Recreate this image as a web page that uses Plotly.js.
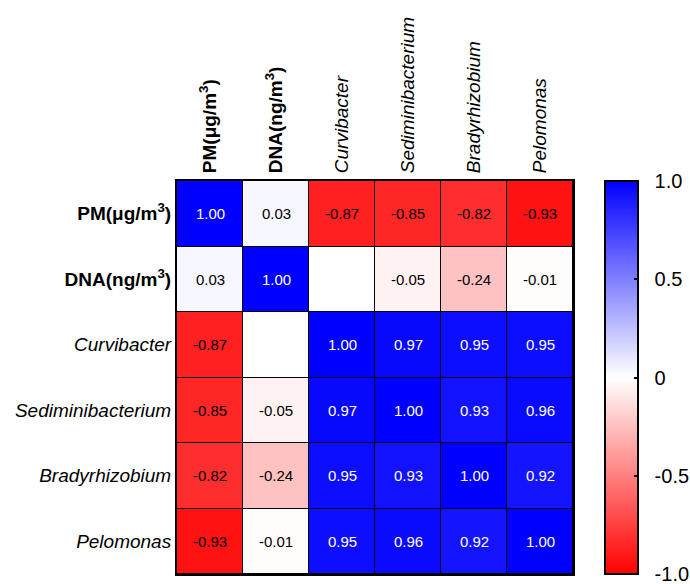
<!DOCTYPE html>
<html>
<head>
<meta charset="utf-8">
<script src="https://cdn.plot.ly/plotly-3.0.1.min.js"></script>
<style>html,body{margin:0;padding:0;background:#fff;}#chart{width:690px;height:584px;}</style>
</head>
<body>
<div id="chart"></div>
<script>
// Variables (order as drawn, top to bottom / left to right)
const categories = ["PM", "DNA", "Curvibacter", "Sediminibacterium", "Bradyrhizobium", "Pelomonas"];
const tickLabels = [
  "<b>PM(μg/m<sup>3</sup>)</b>",
  "<b>DNA(ng/m<sup>3</sup>)</b>",
  "<i>Curvibacter</i>",
  "<i>Sediminibacterium</i>",
  "<i>Bradyrhizobium</i>",
  "<i>Pelomonas</i>"
];
// Correlation rows
const rowPM                = [ 1.00,  0.03, -0.87, -0.85, -0.82, -0.93];
const rowDNA               = [ 0.03,  1.00,  0.00, -0.05, -0.24, -0.01];
const rowCurvibacter       = [-0.87,  0.00,  1.00,  0.97,  0.95,  0.95];
const rowSediminibacterium = [-0.85, -0.05,  0.97,  1.00,  0.93,  0.96];
const rowBradyrhizobium    = [-0.82, -0.24,  0.95,  0.93,  1.00,  0.92];
const rowPelomonas         = [-0.93, -0.01,  0.95,  0.96,  0.92,  1.00];
// Cell labels (the DNA–Curvibacter pair is shown blank in the original)
const labelsPM                = ["1.00", "0.03", "-0.87", "-0.85", "-0.82", "-0.93"];
const labelsDNA               = ["0.03", "1.00", "", "-0.05", "-0.24", "-0.01"];
const labelsCurvibacter       = ["-0.87", "", "1.00", "0.97", "0.95", "0.95"];
const labelsSediminibacterium = ["-0.85", "-0.05", "0.97", "1.00", "0.93", "0.96"];
const labelsBradyrhizobium    = ["-0.82", "-0.24", "0.95", "0.93", "1.00", "0.92"];
const labelsPelomonas         = ["-0.93", "-0.01", "0.95", "0.96", "0.92", "1.00"];
// Colorbar ticks
const cbTickVals = [1, 0.5, 0, -0.5, -1];
const cbTickText = ["1.0", "0.5", "0", "-0.5", "-1.0"];
const cbInnerTicks = [0.5, 0, -0.5];

const z = [rowPM, rowDNA, rowCurvibacter, rowSediminibacterium, rowBradyrhizobium, rowPelomonas];
const labels = [labelsPM, labelsDNA, labelsCurvibacter, labelsSediminibacterium, labelsBradyrhizobium, labelsPelomonas];

const FONT = "Arial, 'Liberation Sans', sans-serif";
const CB_X = 1.081;
const PLOT_W = 690 - 177 - 117;

const trace = {
  type: "heatmap",
  x: categories,
  y: categories,
  z: z,
  zmin: -1,
  zmax: 1,
  xgap: 1,
  ygap: 1,
  colorscale: [[0, "#ff0000"], [0.5, "#ffffff"], [1, "#0000ff"]],
  hoverinfo: "skip",
  colorbar: {
    x: CB_X,
    xanchor: "left",
    xpad: 0,
    ypad: 0,
    y: 0.5,
    yanchor: "middle",
    len: 1.0,
    lenmode: "fraction",
    thickness: 33,
    outlinewidth: 2,
    outlinecolor: "#000",
    tickmode: "array",
    tickvals: cbTickVals,
    ticktext: cbTickText.map(t => "\u00a0\u00a0" + t),
    ticks: "inside",
    ticklen: 5,
    tickwidth: 2,
    tickcolor: "#000",
    ticklabeloverflow: "allow",
    tickfont: {family: FONT, size: 20, color: "#000"}
  }
};

const annotations = [];
for (let i = 0; i < categories.length; i++) {
  for (let j = 0; j < categories.length; j++) {
    const v = z[i][j];
    if (labels[i][j] === "") continue;
    annotations.push({
      x: categories[j],
      y: categories[i],
      xref: "x",
      yref: "y",
      text: labels[i][j],
      showarrow: false,
      font: {family: FONT, size: 15, color: v > 0.5 ? "#ffffff" : "#000000"}
    });
  }
}

// left-edge tick marks on the colour bar (the right-edge ones come from the colorbar itself)
const shapes = cbInnerTicks.map(v => ({
  type: "line",
  xref: "paper",
  yref: "paper",
  x0: CB_X + 1 / PLOT_W,
  x1: CB_X + 6 / PLOT_W,
  y0: (v + 1) / 2,
  y1: (v + 1) / 2,
  line: {color: "#000", width: 2}
}));

const layout = {
  width: 690,
  height: 584,
  margin: {l: 177, r: 117, t: 181, b: 10, pad: 0, autoexpand: false},
  paper_bgcolor: "#ffffff",
  plot_bgcolor: "#000000",
  font: {family: FONT, color: "#000"},
  showlegend: false,
  annotations: annotations,
  shapes: shapes,
  xaxis: {
    side: "top",
    tickmode: "array",
    tickvals: categories,
    ticktext: tickLabels,
    tickangle: -90,
    tickfont: {family: FONT, size: 19, color: "#000"},
    ticks: "",
    ticklabelstandoff: 2,
    showgrid: false,
    zeroline: false,
    showline: true,
    linecolor: "#000",
    linewidth: 2,
    mirror: true
  },
  yaxis: {
    autorange: "reversed",
    tickmode: "array",
    tickvals: categories,
    ticktext: tickLabels,
    tickfont: {family: FONT, size: 19, color: "#000"},
    ticks: "",
    ticklabelstandoff: 0,
    showgrid: false,
    zeroline: false,
    showline: true,
    linecolor: "#000",
    linewidth: 2,
    mirror: true
  }
};

Plotly.newPlot("chart", [trace], layout, {displayModeBar: false, staticPlot: true});
</script>
</body>
</html>
